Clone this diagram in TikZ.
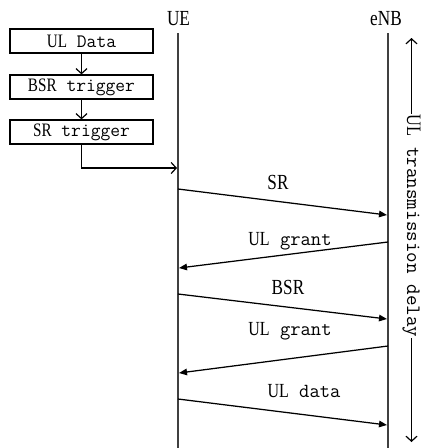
\documentclass[tikz,border=0pt]{standalone}
\usepackage{fontspec}
\newfontfamily\nserif[FakeStretch=0.8]{Liberation Serif}
\newcommand\uc[1]{{\nserif #1}}
\usetikzlibrary{arrows.meta}
\tikzset{
  flowbox/.style={draw, line width=1.2pt, minimum width=143pt, minimum height=24pt,
    inner sep=0pt, font=\fontsize{19}{19}\selectfont\ttfamily},
  flowarrow/.style={line width=1.2pt, -{Straight Barb[length=5pt,width=11pt]}},
  lifeline/.style={draw=black!75, line width=1.7pt},
  msg/.style={line width=1.25pt, -{Triangle[length=8pt,width=6.5pt]}},
  msglabel/.style={font=\fontsize{20}{20}\selectfont\ttfamily, inner sep=0pt},
  actor/.style={font=\fontsize{21.5}{21.5}\selectfont\nserif, inner sep=0pt},
  delayarrow/.style={line width=1.2pt, -{Straight Barb[length=5pt,width=11pt]}},
}
\begin{document}
\begin{tikzpicture}[x=1pt,y=-1pt]
\useasboundingbox (0,0) rectangle (423,448);

% trigger chain
\node[flowbox] (uldata) at (81.5,41) {\uc{UL} Data};
\node[flowbox] (bsrt) at (81.5,87) {\uc{BSR} trigger};
\node[flowbox] (srt) at (81.5,132) {\uc{SR} trigger};
\draw[flowarrow] (uldata) -- (bsrt);
\draw[flowarrow] (bsrt) -- (srt);

% actors and lifelines
\node[actor] (ue) at (178.5,19) {UE};
\node[actor] (enb) at (386,19) {eNB};
\coordinate (ueTop) at (178,33);
\coordinate (ueBot) at (178,448);
\coordinate (enbTop) at (388,33);
\coordinate (enbBot) at (388,448);
\draw[lifeline] (ueTop) -- (ueBot);
\draw[lifeline] (enbTop) -- (enbBot);

\coordinate (ueIn) at (177,168);
\draw[flowarrow] (srt.south) |- (ueIn);

% signalling
\coordinate (u1) at (178,189);  \coordinate (e1) at (387,215);
\coordinate (e2) at (388,242);  \coordinate (u2) at (179,268);
\coordinate (u3) at (178,294);  \coordinate (e3) at (387,319);
\coordinate (e4) at (388,346);  \coordinate (u4) at (179,373);
\coordinate (u5) at (178,399);  \coordinate (e5) at (387,425);

\draw[msg] (u1) -- (e1);
\draw[msg] (e2) -- (u2);
\draw[msg] (u3) -- (e3);
\draw[msg] (e4) -- (u4);
\draw[msg] (u5) -- (e5);

\node[actor] (lsr) at (278,182) {SR};
\node[msglabel] (lgrant1) at (290,241) {\uc{UL} grant};
\node[actor] (lbsr) at (288,287) {BSR};
\node[msglabel] (lgrant2) at (290,331) {\uc{UL} grant};
\node[msglabel] (ldata) at (304,391) {\uc{UL} data};

% delay span
\node[rotate=-90, inner sep=1pt, font=\fontsize{20.5}{20.5}\selectfont\ttfamily]
  (delay) at (411.5,226) {\uc{UL} transmission delay};
\coordinate (dTop) at (411.5,38);
\coordinate (dBot) at (411.5,442);
\draw[delayarrow] (delay.west) -- (dTop);
\draw[delayarrow] (delay.east) -- (dBot);
\end{tikzpicture}
\end{document}
